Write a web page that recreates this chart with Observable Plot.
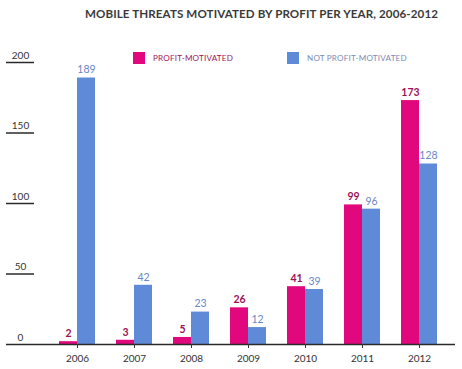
<!DOCTYPE html>
<html>
<head>
<meta charset="utf-8">
<script src="https://cdn.jsdelivr.net/npm/d3@7"></script>
<script src="https://cdn.jsdelivr.net/npm/@observablehq/plot@0.6"></script>
<style>
  html, body { margin: 0; padding: 0; background: #fff; }
  #wrap { position: relative; width: 462px; height: 369px; font-family: Lato, sans-serif; }
  #title { position: absolute; left: 0; width: 462px; top: 7px; padding-left: 61px; box-sizing: border-box; text-align: center;
           font-weight: 700; font-size: 11.6px; color: #3a3a3a; letter-spacing: 0.1px; }
  .leg { position: absolute; top: 52px; font-size: 8.1px; display: flex; align-items: center; letter-spacing: 0.2px; }
  .sw { width: 12px; height: 12px; display: inline-block; margin-right: 8px; }
  svg { position: absolute; left: 0; top: 0; }
</style>
</head>
<body>
<div id="wrap">
  <div id="title">MOBILE THREATS MOTIVATED BY PROFIT PER YEAR, 2006-2012</div>
  <div class="leg" style="left:133px;color:#a0145e"><span class="sw" style="background:#e0087c"></span>PROFIT-MOTIVATED</div>
  <div class="leg" style="left:287px;color:#7d8bb5"><span class="sw" style="background:#5e8ad8"></span>NOT PROFIT-MOTIVATED</div>
</div>
<script>
const years = ["2006", "2007", "2008", "2009", "2010", "2011", "2012"];
const profit = [2, 3, 5, 26, 41, 99, 173];
const notProfit = [189, 42, 23, 12, 39, 96, 128];
const series = ["Profit-motivated", "Not profit-motivated"];
const yTicks = [0, 50, 100, 150, 200];

const data = [];
years.forEach((yr, i) => {
  data.push({year: yr, series: series[0], value: profit[i]});
  data.push({year: yr, series: series[1], value: notProfit[i]});
});

const chart = Plot.plot({
  width: 462,
  height: 369,
  marginTop: 62,
  marginBottom: 25,
  marginLeft: 6,
  marginRight: 7,
  style: {fontFamily: "Lato, sans-serif", background: "transparent"},
  fx: {domain: years, paddingInner: 0, paddingOuter: 0.4386, align: 0.85, round: false, label: null, axis: null},
  x: {domain: series, paddingInner: 0, paddingOuter: 0.5833, round: false, axis: null},
  y: {domain: [0, 200], axis: null, label: null},
  color: {domain: series, range: ["#e0087c", "#5e8ad8"]},
  marks: [
    Plot.barY(data, {fx: "year", x: "series", y: "value", fill: "series"}),
    Plot.text(data.filter(d => d.series === series[0]), {fx: "year", x: "series", y: "value", text: d => String(d.value),
      dy: -8, fill: "#9a1358", fontSize: 10.5, fontWeight: 700}),
    Plot.text(data.filter(d => d.series === series[1]), {fx: "year", x: "series", y: "value", text: d => String(d.value),
      dy: -8, fill: "#6a86c6", fontSize: 10.5}),
    // baseline spanning the whole width
    Plot.axisY({anchor: "left", ticks: [0], tickSize: 449, dx: 406.5, text: null, label: null, stroke: "#2a2a2a", strokeWidth: 1.5}),
    // short tick lines under labels
    Plot.axisY({anchor: "left", ticks: yTicks.filter(t => t > 0), tickSize: 28, dx: -14.5, text: null, label: null, stroke: "#2a2a2a", strokeWidth: 1.5}),
    // tick labels
    Plot.axisY({anchor: "left", ticks: yTicks, tickSize: 0, tickPadding: 0, dx: -28.5, dy: -7, textAnchor: "middle",
      fontSize: 10, fill: "#333", label: null}),
    Plot.axisFx({anchor: "bottom", tickSize: 4, tickPadding: 6, fontSize: 10, color: "#333", label: null})
  ]
});
document.getElementById("wrap").appendChild(chart);
</script>
</body>
</html>
